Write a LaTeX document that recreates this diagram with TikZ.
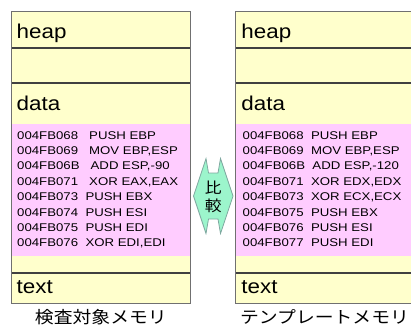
\documentclass[tikz,border=0pt]{standalone}
\usepackage{fontspec}
\setmainfont[FakeStretch=1.12]{Liberation Sans}
\newfontfamily\codefont[FakeStretch=1.18]{Liberation Sans}
\newfontfamily\jp[FakeStretch=1.12]{Noto Sans CJK JP}
\definecolor{memyellow}{HTML}{FFFFCC}
\definecolor{mempink}{HTML}{FFCCFF}
\definecolor{memedge}{HTML}{707070}
\definecolor{memline}{HTML}{404040}
\definecolor{cmpfill}{HTML}{9CF5CC}
\definecolor{cmpedge}{HTML}{7FA8A0}
\tikzset{
  hdr/.style={anchor=base west,inner sep=0pt,font=\fontsize{20}{20}\selectfont},
  code/.style={anchor=base west,inner sep=0pt,font=\codefont\fontsize{11.2}{11.2}\selectfont},
  captxt/.style={anchor=base,inner sep=0pt,font=\jp\fontsize{16.8}{16.8}\selectfont},
  divider/.style={draw=memline,line width=1.2pt},
}
\begin{document}
\begin{tikzpicture}[x=1pt,y=-1pt]
\useasboundingbox (0,0) rectangle (411,329);
\clip (0,0) rectangle (411,329);
% boxes
\foreach \X/\nm in {11/L,235.7/R}{
  \fill[memyellow] (\X,11.5) rectangle (\X+179.7,303);
  \fill[mempink] (\X,124) rectangle (\X+179.7,255.5);
  \draw[divider] (\X,48) -- (\X+179.7,48);
  \draw[divider] (\X,83) -- (\X+179.7,83);
  \draw[divider] (\X,273) -- (\X+179.7,273);
  \draw[memedge,line width=0.9pt] (\X,11.5) rectangle (\X+179.7,303);
  \node[hdr] (heap\nm) at (\X+5.5,38) {heap};
  \node[hdr] (data\nm) at (\X+5.5,110) {data};
  \node[hdr] (text\nm) at (\X+5.5,293) {text};
}
% left code
\node[code] (l1) at (17,139) {004FB068\ \ \ PUSH EBP};
\node[code] (l2) at (17,154.4) {004FB069\ \ \ MOV EBP,ESP};
\node[code] (l3) at (17,169.8) {004FB06B\ \ \ ADD ESP,-90};
\node[code] (l4) at (17,185.2) {004FB071\ \ \ XOR EAX,EAX};
\node[code] (l5) at (17,200.6) {004FB073\ \ PUSH EBX};
\node[code] (l6) at (17,216) {004FB074\ \ PUSH ESI};
\node[code] (l7) at (17,231.4) {004FB075\ \ PUSH EDI};
\node[code] (l8) at (17,246.8) {004FB076\ \ XOR EDI,EDI};
% right code
\node[code] (r1) at (242.5,139) {004FB068\ \ PUSH EBP};
\node[code] (r2) at (242.5,154.4) {004FB069\ \ MOV EBP,ESP};
\node[code] (r3) at (242.5,169.8) {004FB06B\ \ ADD ESP,-120};
\node[code] (r4) at (242.5,185.2) {004FB071\ \ XOR EDX,EDX};
\node[code] (r5) at (242.5,200.6) {004FB073\ \ XOR ECX,ECX};
\node[code] (r6) at (242.5,216) {004FB075\ \ PUSH EBX};
\node[code] (r7) at (242.5,231.4) {004FB076\ \ PUSH ESI};
\node[code] (r8) at (242.5,246.8) {004FB077\ \ PUSH EDI};
% captions
\node[captxt] (capL) at (100.85,323) {検査対象メモリ};
\node[captxt] (capR) at (324.5,323) {テンプレートメモリ};
% compare arrow
\draw[cmpedge,fill=cmpfill,line width=0.8pt,line join=miter]
  (193.5,196) -- (206,158.5) -- (208.5,173) -- (218,173) -- (220.5,158.5)
  -- (233,196) -- (220.5,233.5) -- (218,219) -- (208.5,219) -- (206,233.5) -- cycle;
\node[align=center,inner sep=0pt,font=\jp\fontsize{15}{18}\selectfont] (cmp) at (213.2,197) {比\\較};
\end{tikzpicture}
\end{document}
